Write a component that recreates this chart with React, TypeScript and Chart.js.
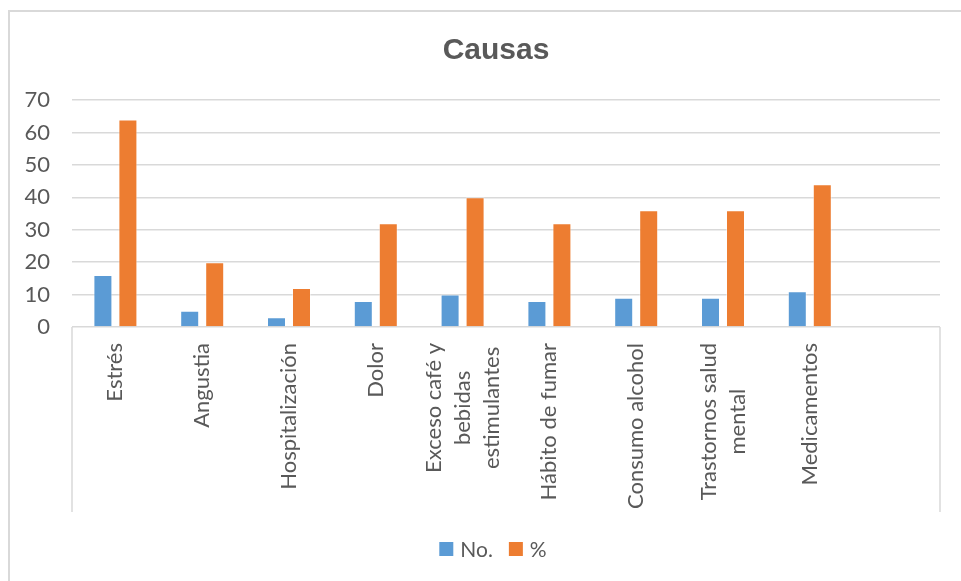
import React, { useEffect, useRef } from "react";
import { Chart, registerables } from "chart.js";

Chart.register(...registerables);

// Categories (multi-line entries are arrays); the last slot is left empty
const categories: (string | string[])[] = [
  "Estrés",
  "Angustia",
  "Hospitalización",
  "Dolor",
  ["Exceso café y", "bebidas", "estimulantes"],
  "Hábito de fumar",
  "Consumo alcohol",
  ["Trastornos salud", "mental"],
  "Medicamentos",
  "",
];
const countValues = [16, 5, 3, 8, 10, 8, 9, 9, 11, null];
const percentValues = [64, 20, 12, 32, 40, 32, 36, 36, 44, null];
const seriesNames = ["No.", "%"];
const seriesColors = ["#5b9bd5", "#ed7d31"];
const yTicks = { min: 0, max: 70, step: 10 };
const chartTitle = "Causas";

const TEXT = "#595959";
const LINE = "#d9d9d9";
const FONT = "Lato";

const decorPlugin = {
  id: "decor",
  afterDraw(chart: any) {
    const { ctx, chartArea, scales } = chart;
    const x = scales.x;
    ctx.save();

    // outer frame (top and left edges)
    ctx.strokeStyle = LINE;
    ctx.lineWidth = 2;
    ctx.beginPath();
    ctx.moveTo(9, chart.height);
    ctx.lineTo(9, 11);
    ctx.lineTo(chart.width, 11);
    ctx.stroke();

    // category box below the plot
    ctx.lineWidth = 1.5;
    ctx.beginPath();
    ctx.moveTo(chartArea.left, chartArea.bottom);
    ctx.lineTo(chartArea.left, 512);
    ctx.moveTo(chartArea.right, chartArea.bottom);
    ctx.lineTo(chartArea.right, 512);
    ctx.stroke();

    // title
    ctx.fillStyle = TEXT;
    ctx.font = `bold 30px "Liberation Sans", Arial, sans-serif`;
    ctx.textAlign = "center";
    ctx.textBaseline = "middle";
    ctx.fillText(chartTitle, 496, 51);

    // rotated category labels
    ctx.font = `22px ${FONT}`;
    const lineH = 29;
    const topY = chartArea.bottom + 16;
    categories.forEach((cat, i) => {
      const lines = Array.isArray(cat) ? cat : [cat];
      if (!lines[0]) return;
      const cx = x.getPixelForTick(i);
      const maxW = Math.max(...lines.map((l) => ctx.measureText(l).width));
      ctx.save();
      ctx.translate(cx, topY);
      ctx.rotate(-Math.PI / 2);
      ctx.textAlign = "center";
      ctx.textBaseline = "middle";
      lines.forEach((l, j) => {
        ctx.fillText(l, -maxW / 2, (j - (lines.length - 1) / 2) * lineH);
      });
      ctx.restore();
    });

    // legend
    ctx.font = `21px ${FONT}`;
    const legendY = 549;
    const items = chart.data.datasets.map((d: any) => ({
      label: d.label,
      color: d.backgroundColor,
    }));
    ctx.textAlign = "left";
    ctx.textBaseline = "middle";
    const box = 14;
    const gapBox = 7;
    const gapItem = 16;
    const widths = items.map(
      (it: any) => box + gapBox + ctx.measureText(it.label).width
    );
    const total =
      widths.reduce((a: number, b: number) => a + b, 0) +
      gapItem * (items.length - 1);
    let lx = 493 - total / 2;
    items.forEach((it: any, k: number) => {
      ctx.fillStyle = it.color;
      ctx.fillRect(lx, legendY - box / 2, box, box);
      ctx.fillStyle = TEXT;
      ctx.fillText(it.label, lx + box + gapBox, legendY + 1);
      lx += widths[k] + gapItem;
    });

    ctx.restore();
  },
};

export default function App() {
  const canvasRef = useRef<HTMLCanvasElement | null>(null);

  useEffect(() => {
    if (!canvasRef.current) return;
    const chart = new Chart(canvasRef.current, {
      type: "bar",
      data: {
        labels: categories.map((c) => (Array.isArray(c) ? c.join(" ") : c)),
        datasets: [
          {
            label: seriesNames[0],
            data: countValues,
            backgroundColor: seriesColors[0],
            borderColor: "rgba(255,255,255,0.45)",
            borderWidth: 1,
            categoryPercentage: 0.576,
            barPercentage: 0.76,
          },
          {
            label: seriesNames[1],
            data: percentValues,
            backgroundColor: seriesColors[1],
            borderColor: "rgba(255,255,255,0.45)",
            borderWidth: 1,
            categoryPercentage: 0.576,
            barPercentage: 0.76,
          },
        ],
      },
      options: {
        responsive: false,
        animation: false,
        layout: { padding: { left: 0, top: 100, right: 21, bottom: 0 } },
        plugins: {
          legend: { display: false },
          title: { display: false },
          tooltip: { enabled: false },
        },
        scales: {
          x: {
            ticks: { display: false },
            grid: { display: false },
            border: { display: false },
            afterFit: (s: any) => {
              s.height = 581 - 327;
            },
          },
          y: {
            min: yTicks.min,
            max: yTicks.max,
            ticks: {
              stepSize: yTicks.step,
              color: TEXT,
              font: { family: FONT, size: 22 },
              padding: 22,
            },
            grid: { color: LINE, lineWidth: 1.5, drawTicks: false },
            border: { display: false },
            afterFit: (s: any) => {
              s.width = 72;
            },
          },
        },
      },
      plugins: [decorPlugin],
    });
    return () => chart.destroy();
  }, []);

  return (
    <canvas
      ref={canvasRef}
      width={961}
      height={581}
      style={{ position: "fixed", left: 0, top: 0, width: 961, height: 581 }}
    />
  );
}
